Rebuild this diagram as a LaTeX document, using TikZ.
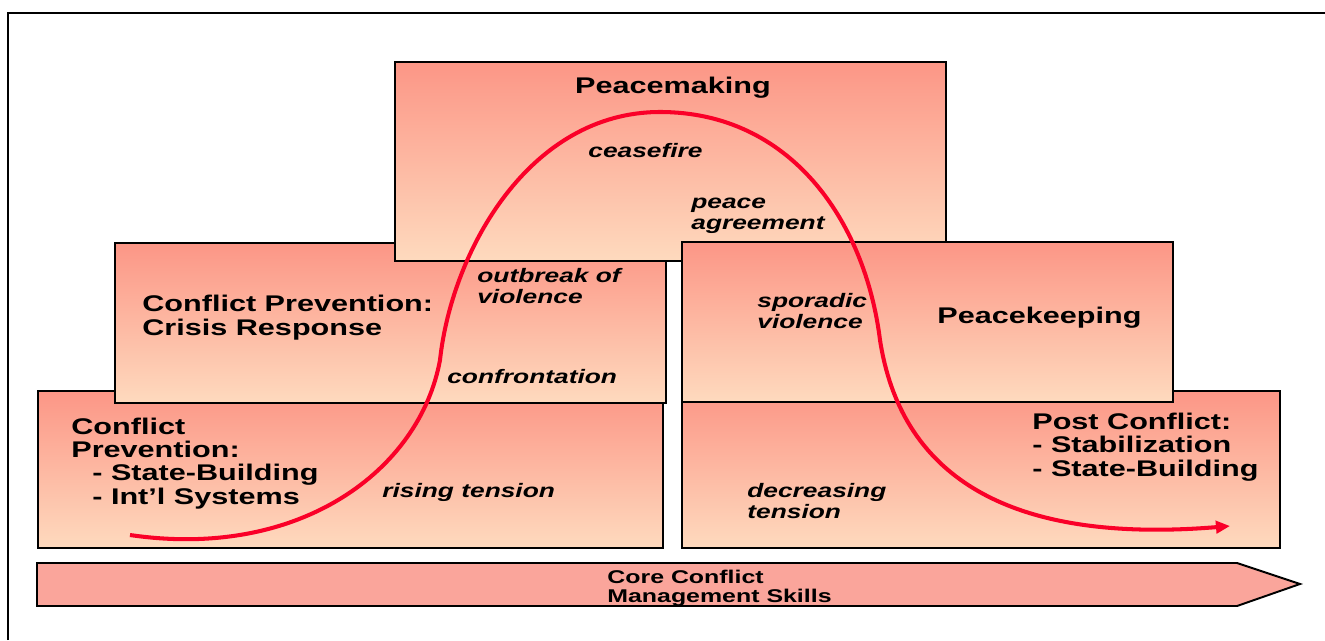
\documentclass[tikz,border=0pt]{standalone}
\usepackage{fontspec}
\setmainfont{Liberation Sans}[FakeStretch=1.35]
\usepackage{tikz}
\usetikzlibrary{arrows.meta}
\definecolor{warmtop}{RGB}{252,150,134}
\definecolor{warmbot}{RGB}{254,218,190}
\definecolor{trendred}{RGB}{250,0,40}
\definecolor{bandpink}{RGB}{250,165,155}
\tikzset{
  zone/.style={draw=black,line width=1.1pt,top color=warmtop,bottom color=warmbot},
  band/.style={draw=black,line width=1.1pt,fill=bandpink},
  head/.style={font=\bfseries\fontsize{12.9}{13.1}\selectfont,inner sep=0pt,anchor=base west,align=left},
  cue/.style={font=\bfseries\itshape\fontsize{11.1}{11.4}\selectfont,inner sep=0pt,anchor=base west,align=left},
  blab/.style={font=\bfseries\fontsize{10.5}{10.8}\selectfont,inner sep=0pt,anchor=base west,align=left},
  trend/.style={trendred,line width=2.3pt,-{Triangle[length=8pt,width=7pt]}}
}
\begin{document}
\begin{tikzpicture}[x=0.2mm,y=-0.2mm]
  \useasboundingbox (0,0) rectangle (1325,640);
  % frame
  \draw[line width=1.7pt] (8,640) -- (8,13) -- (1325,13);
  % stages, back to front
  \shade[zone] (38,391) rectangle (663,548);
  \shade[zone] (682,391) rectangle (1280,548);
  \shade[zone] (115,243) rectangle (666,403);
  \shade[zone] (395,62) rectangle (946,261);
  \shade[zone] (682,242) rectangle (1173,402);
  % core skills band
  \draw[band] (37,563) -- (1237,563) -- (1300,584) -- (1237,606) -- (37,606) -- cycle;
  % escalation curve
  \coordinate (start) at (130,535);
  \coordinate (rise) at (440,360);
  \coordinate (top) at (660,112);
  \coordinate (fall) at (880,340);
  \coordinate (end) at (1230,526);
  \draw[trend] (start) .. controls (300,560) and (420,470) .. (rise)
    .. controls (452,250) and (530,112) .. (top)
    .. controls (790,112) and (865,220) .. (fall)
    .. controls (900,470) and (1000,545) .. (end);
  % stage titles (last baseline)
  \node[head,anchor=base] (pm) at (673,93) {Peacemaking};
  \node[head] (cr) at (142,335) {Conflict Prevention:\\Crisis Response};
  \node[head] (pk) at (937,323) {Peacekeeping};
  \node[head] (pc) at (1032,476) {Post Conflict:\\- Stabilization\\- State-Building};
  \node[head] (cp) at (71,504) {Conflict\\Prevention:\\\hspace*{4.2mm}- State-Building\\\hspace*{4.2mm}- Int’l Systems};
  % curve labels
  \node[cue] (cf) at (588,157) {ceasefire};
  \node[cue] (pa) at (691,229) {peace\\agreement};
  \node[cue] (ob) at (477,303) {outbreak of\\violence};
  \node[cue] (ct) at (447,383) {confrontation};
  \node[cue] (sv) at (757,328) {sporadic\\violence};
  \node[cue] (rt) at (382,497) {rising tension};
  \node[cue] (dt) at (747,518) {decreasing\\tension};
  \node[blab] (cs) at (607,602) {Core Conflict\\Management Skills};
\end{tikzpicture}
\end{document}
